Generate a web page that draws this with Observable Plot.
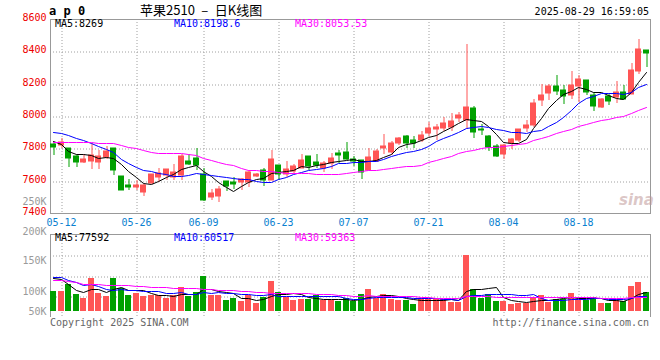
<!DOCTYPE html>
<html><head><meta charset="utf-8">
<script src="https://cdn.jsdelivr.net/npm/d3@7"></script>
<script src="https://cdn.jsdelivr.net/npm/@observablehq/plot@0.6"></script>
<style>
body{margin:0;background:#fff;}
#c{position:relative;width:660px;height:360px;overflow:hidden;background:#fff;}
#c svg{position:absolute;left:0;top:0;}
.t{position:absolute;font-family:"DejaVu Sans Mono",monospace;font-size:10px;line-height:10px;white-space:pre;}
</style></head><body>
<div id="c"></div>
<script>
// ---- data (80 daily candles, 05-09 .. 08-29) ----
const opens  = [7825,7819,7799,7751,7718,7722,7718,7747,7799,7628,7572,7558,7531,7587,7624,7634,7624,7638,7722,7743,
                7644,7496,7504,7597,7593,7593,7589,7628,7665,7607,7696,7644,7661,7681,7751,7716,7681,7712,7772,7778,
                7737,7727,7669,7723,7799,7778,7836,7875,7850,7850,7896,7918,7926,7933,7990,7974,8052,7922,7879,7813,
                7764,7830,7850,7926,7943,8097,8143,8184,8159,8128,8186,8221,8128,8056,8124,8118,8149,8139,8279,8406];
const highs  = [7830,7867,7801,7768,7764,7836,7788,7815,7801,7630,7613,7603,7578,7642,7681,7675,7706,7768,7764,7799,
                7681,7547,7570,7599,7624,7617,7669,7650,7681,7788,7698,7720,7706,7762,7753,7764,7720,7772,7788,7840,
                7751,7729,7799,7793,7887,7844,7871,7881,7875,7906,7961,7949,7994,8019,8025,8443,8060,7953,7881,7826,
                7825,7861,7920,7978,8108,8196,8200,8252,8190,8277,8252,8223,8149,8112,8145,8215,8190,8328,8474,8411];
const lows   = [7758,7799,7685,7685,7712,7671,7675,7737,7638,7541,7545,7541,7504,7582,7593,7603,7603,7603,7696,7665,
                7475,7483,7469,7537,7547,7541,7562,7624,7566,7603,7603,7624,7644,7681,7669,7681,7654,7675,7710,7727,
                7690,7613,7665,7716,7764,7758,7819,7805,7801,7840,7875,7850,7908,7908,7964,7922,7867,7881,7784,7747,
                7737,7793,7840,7898,7933,8060,8097,8132,8073,8104,8087,8128,8031,8052,8067,8081,8108,8139,8258,8303];
const closes = [7809,7838,7741,7716,7731,7757,7751,7782,7669,7545,7558,7572,7576,7640,7650,7671,7654,7751,7706,7696,
                7479,7521,7547,7566,7578,7609,7652,7644,7603,7733,7644,7671,7690,7727,7690,7696,7712,7743,7758,7737,
                7723,7655,7747,7784,7815,7836,7865,7834,7830,7881,7926,7933,7957,7970,8005,8056,7901,7912,7809,7751,
                7823,7856,7918,7943,8081,8128,8184,8153,8124,8190,8231,8149,8060,8108,8091,8149,8108,8283,8417,8390];
const volumes = [82000,82000,110700,69700,53300,135300,73800,61500,135300,94300,64400,73800,61500,66800,64400,53300,64400,98400,61500,77900,
                 143500,66800,64400,43900,53300,39800,64400,32800,57400,123000,77900,57400,46300,48000,50400,64400,46300,46300,41000,54500,
                 41000,70900,89000,54500,70900,50400,43900,43900,27500,53300,48000,48000,50400,36900,36900,230000,92000,53300,68500,39800,
                 39800,29900,34000,34000,57120,65600,38100,49200,49200,75000,46000,46000,58000,34000,33210,50000,39000,104000,118000,76960];
// moving-average values shown before enough candles exist in the window
const priceMA5Head  = [7846,7826,7786,7768];
const priceMA10Head = [7902,7896,7881,7867,7850,7830,7813,7797,7778];
const priceMA30Head = [7840,7840,7840,7840,7838,7838,7836,7834,7830,7819,7809,7799,7788,7778,7774,7774,7772,7770,7766,7758,
                       7743,7727,7714,7706,7696,7681,7669,7665,7661];
const volMA5Head  = [135000,130000,109000,87000];
const volMA10Head = [139000,139000,128000,119000,105000,112000,102000,92000,85000];
const volMA30Head = [126000,126000,123000,119000,112000,109000,109000,108000,108000,107000,105000,103000,101000,100000,98000,
                     97000,96000,96000,94000,93000,90000,89000,87000,86000,85000,82000,81000,79000,78000];

const xTickIdx    = [1, 11, 20, 30, 40, 50, 60, 70];
const xTickLabels = ["05-12","05-26","06-09","06-23","07-07","07-21","08-04","08-18"];
const priceTicks  = [7400, 7600, 7800, 8000, 8200, 8400, 8600];
const priceGrid   = [7600, 7800, 8000, 8200, 8400];
const volTickLabels = ["250K","200K","150K","100K","50K"];
const volTickPos    = [452000, 329000, 209000, 83000, 1200];
const priceMALabels = ["MA5:8269","MA10:8198.6","MA30:8053.53"];
const volMALabels   = ["MA5:77592","MA10:60517","MA30:59363"];
const maColors      = ["#000000","#0000ff","#ff00ff"];
const titleText = "苹果2510\u2002–\u2002日K线图";
const codeText  = "a p 0";
const stampText = "2025-08-29 16:59:05";

// ---- build ----
const RED = "#ff5555", GREEN = "#00a000", GRID = "#a0a0a0", FRAME = "#999999";
const candles = closes.map((c, i) => ({i, o: opens[i], h: highs[i], l: lows[i], c, v: volumes[i], col: c >= opens[i] ? RED : GREEN}));
function movingAvg(arr, k, head) {
  return arr.map((_, i) => i < k - 1 ? head[i] : d3.mean(arr.slice(i - k + 1, i + 1)));
}
const priceMAs = [movingAvg(closes, 5, priceMA5Head), movingAvg(closes, 10, priceMA10Head), movingAvg(closes, 30, priceMA30Head)];
const volMAs   = [movingAvg(volumes, 5, volMA5Head), movingAvg(volumes, 10, volMA10Head), movingAvg(volumes, 30, volMA30Head)];
const lineData = (series) => series.map((s, k) => s.map((v, i) => ({i, v, k})));

const W = 660, H = 360;
const xDom = [-0.43, 79.57];
const labelOf = new Map(xTickIdx.map((d, i) => [d, xTickLabels[i]]));
const volLabelOf = new Map(volTickPos.map((d, i) => [d, volTickLabels[i]]));
const baseStyle = {background: "transparent", fontFamily: "DejaVu Sans Mono, monospace", fontSize: "10px", overflow: "visible"};

const price = Plot.plot({
  width: W, height: H, marginLeft: 50, marginRight: 10, marginTop: 19, marginBottom: H - 213,
  style: baseStyle,
  x: {type: "linear", domain: xDom, round: true, label: null},
  y: {domain: [7400, 8600], round: true, label: null},
  color: {type: "identity"},
  marks: [
    Plot.ruleY(priceGrid, {stroke: GRID, strokeDasharray: "1,2", dy: 0.5}),
    Plot.ruleX(xTickIdx, {stroke: GRID, strokeDasharray: "1,2", dx: 0.5}),
    Plot.frame({stroke: FRAME}),
    Plot.ruleX(candles, {x: "i", y1: "l", y2: "h", stroke: "col", dx: 0.5}),
    Plot.rect(candles, {x1: d => d.i - 0.4, x2: d => d.i + 0.4, y1: "o", y2: "c", fill: "col", insetTop: -0.5, insetBottom: -0.5}),
    ...lineData(priceMAs).map((ld, k) => Plot.line(ld, {x: "i", y: "v", stroke: maColors[k], strokeWidth: 1})),
    Plot.axisX(xTickIdx, {anchor: "bottom", label: null, tickSize: 0, tickPadding: 5, tickFormat: d => labelOf.get(d), color: "#0a7fd0"}),
    Plot.axisY(priceTicks, {anchor: "left", label: null, tickSize: 0, tickPadding: 4, tickFormat: d => String(d), color: "#ee0000", dy: -2})
  ]
});

const volMin = -24600, volMax = 315700;
const volGrid = [1, 2, 3].map(k => volMin + (volMax - volMin) * k / 4);
const vol = Plot.plot({
  width: W, height: H, marginLeft: 50, marginRight: 10, marginTop: 234, marginBottom: H - 317,
  style: baseStyle,
  x: {type: "linear", domain: xDom, round: true, axis: null, label: null},
  y: {domain: [volMin, volMax], round: true, label: null},
  color: {type: "identity"},
  marks: [
    Plot.ruleY(volGrid, {stroke: GRID, strokeDasharray: "1,2", dy: 0.5}),
    Plot.ruleX(xTickIdx, {stroke: GRID, strokeDasharray: "1,2", dx: 0.5}),
    Plot.ruleX(xDom, {stroke: FRAME}),
    Plot.ruleY([volMax], {stroke: FRAME}),
    Plot.rect(candles, {x1: d => d.i - 0.4, x2: d => d.i + 0.4, y1: 0, y2: "v", fill: "col"}),
    ...lineData(volMAs).map((ld, k) => Plot.line(ld, {x: "i", y: "v", stroke: maColors[k], strokeWidth: 1})),
    Plot.axisY(volTickPos, {anchor: "left", label: null, tickSize: 0, tickPadding: 4, tickFormat: d => volLabelOf.get(d), color: "#9a9a9a"})
  ]
});

const c = document.getElementById("c");
c.appendChild(price);
c.appendChild(vol);

function addText(txt, css) {
  const d = document.createElement("div");
  d.className = "t";
  d.textContent = txt;
  Object.assign(d.style, css);
  c.appendChild(d);
}
addText(codeText, {left: "49px", top: "5px", fontWeight: "bold", fontSize: "12px", lineHeight: "12px"});
addText(titleText, {left: "140px", top: "2.5px", fontFamily: "'Noto Sans CJK SC', sans-serif", fontSize: "13px", lineHeight: "14px", color: "#000"});
addText(stampText, {right: "11px", top: "6.5px", color: "#000"});
const maX = [55, 174, 295];
priceMALabels.forEach((t, k) => addText(t, {left: maX[k] + "px", top: "18.8px", color: maColors[k]}));
volMALabels.forEach((t, k) => addText(t, {left: maX[k] + "px", top: "233.2px", color: maColors[k]}));
addText("Copyright 2025 SINA.COM", {left: "50px", top: "317.6px", color: "#666"});
addText("http://finance.sina.com.cn", {right: "11px", top: "317.6px", color: "#666"});
addText("sina", {left: "619px", top: "193px", fontFamily: "'DejaVu Sans', sans-serif", fontStyle: "italic", fontWeight: "bold", fontSize: "15px", lineHeight: "15px", color: "rgba(190,150,150,0.55)"});
</script>
</body></html>
